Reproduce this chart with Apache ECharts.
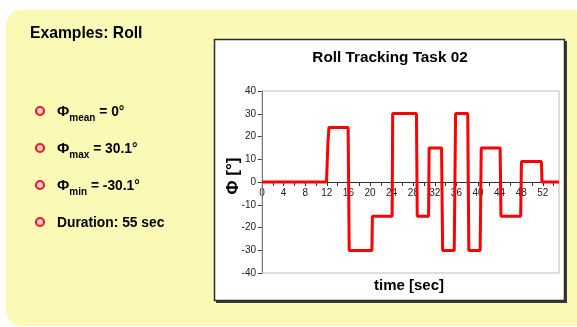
<!DOCTYPE html>
<html>
<head>
<meta charset="utf-8">
<script src="https://cdn.jsdelivr.net/npm/echarts@6/dist/echarts.min.js"></script>
<style>html,body{margin:0;padding:0;background:#fff;}#c{width:577px;height:327px;}</style>
</head>
<body>
<div id="c"></div>
<script>
// Data
var timeSec = [0, 11.95, 12.2, 12.4, 15.95, 16.15, 20.35, 20.45, 24.1, 24.2, 28.6, 28.75, 30.85, 30.95, 33.25, 33.45, 35.6, 35.85, 38.1, 38.3, 40.4, 40.6, 44.1, 44.25, 47.9, 48.05, 51.75, 51.85, 55];
var rollDeg = [0, 0, 17, 24, 24, -30.1, -30.1, -15, -15, 30.1, 30.1, -15, -15, 15, 15, -30.1, -30.1, 30.1, 30.1, -30.1, -30.1, 15, 15, -15, -15, 9, 9, 0, 0];
var yTicks = [-40, -30, -20, -10, 0, 10, 20, 30, 40];
var xLabelStep = 4;
var bulletItems = [
  {sym: 'Φ', sub: 'mean', rest: ' = 0°'},
  {sym: 'Φ', sub: 'max', rest: ' = 30.1°'},
  {sym: 'Φ', sub: 'min', rest: ' = -30.1°'},
  {sym: '', sub: '', rest: 'Duration: 55 sec'}
];

var FONT = '"Liberation Sans", Arial, sans-serif';
var cv = document.createElement('canvas').getContext('2d');
function tw(t, size) { cv.font = 'bold ' + size + 'px ' + FONT; return cv.measureText(t).width; }

var lineData = timeSec.map(function (t, i) { return [t, rollDeg[i]]; });

var graphics = [
  {type: 'rect', z: 0, shape: {x: 6, y: 10, width: 620, height: 316, r: 15}, style: {fill: '#FAFAB6'}},
  {type: 'rect', z: 0, shape: {x: 216, y: 41, width: 351, height: 262}, style: {fill: '#3a3a3a'}},
  {type: 'rect', z: 0, shape: {x: 214.5, y: 39.5, width: 350, height: 261}, style: {fill: '#ffffff', stroke: '#2b2b2b', lineWidth: 1.5}},
  {type: 'text', z: 5, x: 30, y: 34, style: {text: 'Examples: Roll', font: 'bold 15.7px ' + FONT, fill: '#000', verticalAlign: 'middle'}},
  {type: 'text', z: 5, x: 390, y: 58, style: {text: 'Roll Tracking Task 02', font: 'bold 15.3px ' + FONT, fill: '#000', align: 'center', verticalAlign: 'middle'}},
  {type: 'text', z: 5, x: 409, y: 286, style: {text: 'time [sec]', font: 'bold 15px ' + FONT, fill: '#000', align: 'center', verticalAlign: 'middle'}},
  {type: 'text', z: 5, x: 233, y: 176, rotation: Math.PI / 2, style: {text: 'Φ [°]', font: 'bold 17px ' + FONT, fill: '#000', align: 'center', verticalAlign: 'middle'}}
];
var itemY = [112, 149, 186, 223];
bulletItems.forEach(function (it, i) {
  var y = itemY[i];
  graphics.push({type: 'circle', z: 5, shape: {cx: 40, cy: y - 1, r: 4}, style: {fill: '#fbd0d0', stroke: '#ee1c25', lineWidth: 2.2}});
  var x = 57;
  if (it.sym) {
    graphics.push({type: 'text', z: 5, x: x, y: y, style: {text: it.sym, font: 'bold 15px ' + FONT, fill: '#000', verticalAlign: 'middle'}});
    x += tw(it.sym, 15);
    graphics.push({type: 'text', z: 5, x: x, y: y + 6, style: {text: it.sub, font: 'bold 10px ' + FONT, fill: '#000', verticalAlign: 'middle'}});
    x += tw(it.sub, 10);
  }
  graphics.push({type: 'text', z: 5, x: x, y: y, style: {text: it.rest, font: 'bold 13.8px ' + FONT, fill: '#000', verticalAlign: 'middle'}});
});

var chart = echarts.init(document.getElementById('c'), null, {renderer: 'canvas'});
chart.setOption({
  animation: false,
  graphic: graphics,
  grid: {left: 262, right: 18, top: 91, bottom: 54, show: true, borderColor: '#bdbdbd', borderWidth: 1, backgroundColor: 'transparent', z: 3},
  xAxis: {
    type: 'value', min: 0, max: 55, interval: 2, position: 'bottom', offset: -91,
    axisLine: {onZero: false, lineStyle: {color: '#333', width: 1}},
    axisTick: {show: true, inside: false, length: 4, lineStyle: {color: '#333'}},
    axisLabel: {
      color: '#222', fontSize: 10, fontFamily: FONT, margin: 6, showMaxLabel: false,
      formatter: function (v) { return (v % xLabelStep === 0 && v <= 52) ? String(v) : ''; }
    },
    splitLine: {show: false}
  },
  yAxis: {
    type: 'value', min: yTicks[0], max: yTicks[yTicks.length - 1], interval: 10,
    axisLine: {show: true, lineStyle: {color: '#333', width: 1}},
    axisTick: {show: true, length: 4, lineStyle: {color: '#333'}},
    axisLabel: {color: '#222', fontSize: 10, fontFamily: FONT, margin: 6},
    splitLine: {show: false}
  },
  series: [{
    type: 'line', data: lineData, showSymbol: false, symbol: 'none',
    lineStyle: {color: '#ff0000', width: 3}, z: 4
  }]
});
</script>
</body>
</html>
